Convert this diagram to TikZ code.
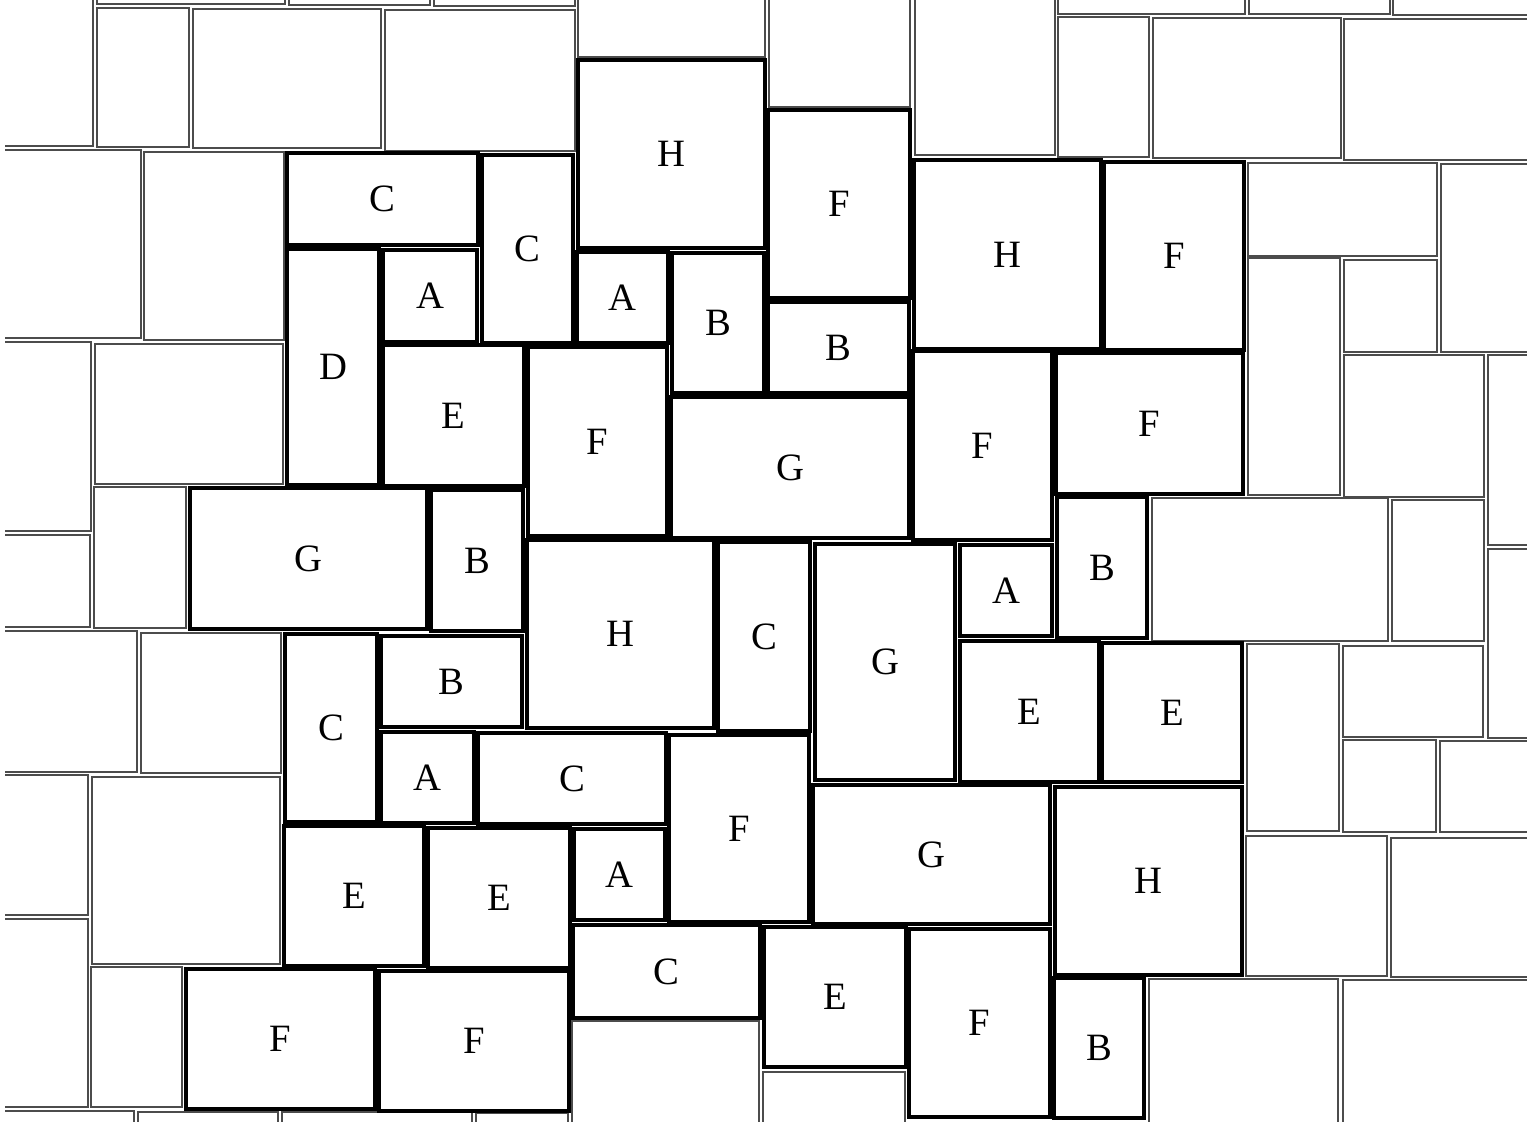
\documentclass[tikz,border=0pt]{standalone}
\usepackage{fontspec}
\setmainfont{Liberation Serif}
\begin{document}
\begin{tikzpicture}
  [x=0.01cm, y=-0.01cm,
   piece/.style={rectangle, draw, line width=0.95pt, inner sep=0pt, font=\fontsize{11}{13}\selectfont},
   bgtile/.style={draw=black!70, line width=0.5pt}]

  \useasboundingbox (0,0) rectangle (1527,1121);
  \fill[white] (0,0) rectangle (1527,1121);
  \clip (5,0) rectangle (1527,1121);

  % background tiles, left
  \draw[bgtile] (-60,-60) rectangle (93,146);
  \draw[bgtile] (97,-60) rectangle (285,4);
  \draw[bgtile] (289,-60) rectangle (430,5);
  \draw[bgtile] (434,-60) rectangle (575,6);
  \draw[bgtile] (97,8) rectangle (189,147);
  \draw[bgtile] (193,9) rectangle (381,148);
  \draw[bgtile] (385,10) rectangle (575,151);
  \draw[bgtile] (-60,150) rectangle (141,338);
  \draw[bgtile] (144,152) rectangle (284,340);
  \draw[bgtile] (-60,342) rectangle (91,531);
  \draw[bgtile] (95,344) rectangle (283,484);
  \draw[bgtile] (-60,535) rectangle (90,627);
  \draw[bgtile] (94,487) rectangle (186,628);
  \draw[bgtile] (-60,631) rectangle (137,772);
  \draw[bgtile] (141,633) rectangle (281,773);
  \draw[bgtile] (-60,775) rectangle (88,915);
  \draw[bgtile] (92,777) rectangle (280,964);
  \draw[bgtile] (-60,919) rectangle (88,1107);
  \draw[bgtile] (91,967) rectangle (182,1107);
  \draw[bgtile] (-60,1111) rectangle (134,1200);
  \draw[bgtile] (138,1112) rectangle (278,1200);
  \draw[bgtile] (282,1112) rectangle (472,1200);
  \draw[bgtile] (476,1113) rectangle (568,1200);

  % background tiles, middle
  \draw[bgtile] (578,-60) rectangle (765,57);
  \draw[bgtile] (769,-60) rectangle (910,107);
  \draw[bgtile] (915,-60) rectangle (1055,155);
  \draw[bgtile] (572,1021) rectangle (759,1200);
  \draw[bgtile] (763,1072) rectangle (905,1200);

  % background tiles, right
  \draw[bgtile] (1058,-60) rectangle (1245,14);
  \draw[bgtile] (1249,-60) rectangle (1390,14);
  \draw[bgtile] (1393,-60) rectangle (1600,15);
  \draw[bgtile] (1058,17) rectangle (1149,157);
  \draw[bgtile] (1153,18) rectangle (1341,158);
  \draw[bgtile] (1344,19) rectangle (1600,160);
  \draw[bgtile] (1248,163) rectangle (1437,256);
  \draw[bgtile] (1441,164) rectangle (1600,352);
  \draw[bgtile] (1248,258) rectangle (1340,495);
  \draw[bgtile] (1344,260) rectangle (1437,352);
  \draw[bgtile] (1344,355) rectangle (1484,497);
  \draw[bgtile] (1488,355) rectangle (1600,545);
  \draw[bgtile] (1152,498) rectangle (1388,641);
  \draw[bgtile] (1392,500) rectangle (1484,641);
  \draw[bgtile] (1488,549) rectangle (1600,738);
  \draw[bgtile] (1247,644) rectangle (1339,831);
  \draw[bgtile] (1343,646) rectangle (1483,737);
  \draw[bgtile] (1343,740) rectangle (1436,832);
  \draw[bgtile] (1440,741) rectangle (1600,832);
  \draw[bgtile] (1246,836) rectangle (1387,976);
  \draw[bgtile] (1391,838) rectangle (1600,977);
  \draw[bgtile] (1149,979) rectangle (1338,1200);
  \draw[bgtile] (1343,980) rectangle (1600,1200);

  % labelled tiles
  \node[piece, minimum width=1.87cm, minimum height=1.88cm] (h1) at (671.5,154) {H};
  \node[piece, minimum width=1.42cm, minimum height=1.88cm] (f1) at (839,204) {F};
  \node[piece, minimum width=1.91cm, minimum height=0.92cm] (c1) at (382.5,199) {C};
  \node[piece, minimum width=0.91cm, minimum height=1.88cm] (c2) at (527.5,249) {C};
  \node[piece, minimum width=0.94cm, minimum height=0.92cm] (a1) at (430,296) {A};
  \node[piece, minimum width=0.91cm, minimum height=0.91cm] (a2) at (622.5,297.5) {A};
  \node[piece, minimum width=0.92cm, minimum height=1.40cm] (b1) at (718,323) {B};
  \node[piece, minimum width=1.41cm, minimum height=0.91cm] (b2) at (838.5,347.5) {B};
  \node[piece, minimum width=1.87cm, minimum height=1.89cm] (h2) at (1007.5,254.5) {H};
  \node[piece, minimum width=1.40cm, minimum height=1.88cm] (f2) at (1174,256) {F};
  \node[piece, minimum width=0.92cm, minimum height=2.36cm] (d1) at (333,367) {D};
  \node[piece, minimum width=1.41cm, minimum height=1.41cm] (e1) at (453.5,415.5) {E};
  \node[piece, minimum width=1.39cm, minimum height=1.89cm] (f3) at (597.5,441.5) {F};
  \node[piece, minimum width=2.38cm, minimum height=1.41cm] (g1) at (790,467.5) {G};
  \node[piece, minimum width=1.39cm, minimum height=1.89cm] (f4) at (982.5,445.5) {F};
  \node[piece, minimum width=1.87cm, minimum height=1.41cm] (f5) at (1149.5,423.5) {F};
  \node[piece, minimum width=2.37cm, minimum height=1.41cm] (g2) at (308.5,558.5) {G};
  \node[piece, minimum width=0.92cm, minimum height=1.41cm] (b3) at (477,560.5) {B};
  \node[piece, minimum width=1.87cm, minimum height=1.88cm] (h3) at (620.5,634) {H};
  \node[piece, minimum width=0.92cm, minimum height=1.89cm] (c3) at (764,636.5) {C};
  \node[piece, minimum width=1.40cm, minimum height=2.36cm] (g3) at (885,662) {G};
  \node[piece, minimum width=0.92cm, minimum height=0.91cm] (a3) at (1006,590.5) {A};
  \node[piece, minimum width=0.90cm, minimum height=1.41cm] (b4) at (1102,567.5) {B};
  \node[piece, minimum width=0.92cm, minimum height=1.88cm] (c4) at (331,728) {C};
  \node[piece, minimum width=1.41cm, minimum height=0.91cm] (b5) at (451.5,681.5) {B};
  \node[piece, minimum width=0.93cm, minimum height=0.91cm] (a4) at (427.5,777.5) {A};
  \node[piece, minimum width=1.88cm, minimum height=0.91cm] (c5) at (572,778.5) {C};
  \node[piece, minimum width=1.40cm, minimum height=1.87cm] (f6) at (739,828.5) {F};
  \node[piece, minimum width=1.39cm, minimum height=1.41cm] (e2) at (1029.5,711.5) {E};
  \node[piece, minimum width=1.40cm, minimum height=1.39cm] (e3) at (1172,712.5) {E};
  \node[piece, minimum width=1.40cm, minimum height=1.40cm] (e4) at (354,896) {E};
  \node[piece, minimum width=1.42cm, minimum height=1.40cm] (e5) at (499,898) {E};
  \node[piece, minimum width=0.91cm, minimum height=0.91cm] (a5) at (619.5,874.5) {A};
  \node[piece, minimum width=2.37cm, minimum height=1.39cm] (g4) at (931.5,854.5) {G};
  \node[piece, minimum width=1.87cm, minimum height=1.88cm] (h4) at (1148.5,881) {H};
  \node[piece, minimum width=1.87cm, minimum height=0.93cm] (c6) at (666.5,971.5) {C};
  \node[piece, minimum width=1.42cm, minimum height=1.40cm] (e6) at (835,997) {E};
  \node[piece, minimum width=1.41cm, minimum height=1.88cm] (f7) at (979.5,1023) {F};
  \node[piece, minimum width=0.90cm, minimum height=1.40cm] (b6) at (1099,1048) {B};
  \node[piece, minimum width=1.89cm, minimum height=1.40cm] (f8) at (280.5,1039) {F};
  \node[piece, minimum width=1.90cm, minimum height=1.40cm] (f9) at (474,1041) {F};
\end{tikzpicture}
\end{document}
